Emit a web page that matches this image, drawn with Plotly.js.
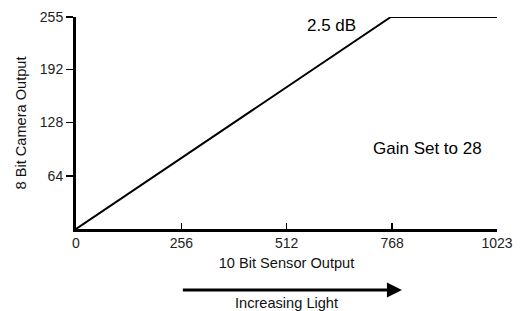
<!DOCTYPE html>
<html>
<head>
<meta charset="utf-8">
<script src="https://cdn.plot.ly/plotly-3.0.1.min.js"></script>
<style>html,body{margin:0;padding:0;background:#fff;}#chart{width:520px;height:311px;}</style>
</head>
<body>
<div id="chart"></div>
<script>
var sensorOutput = [0, 765, 1023];
var cameraOutput = [0, 255, 255];
var xTicks = [0, 256, 512, 768, 1023];
var yTicks = [64, 128, 192, 255];
var gainLabel = "2.5 dB";
var gainSetLabel = "Gain Set to 28";
var lightLabel = "Increasing Light";
var arrowStart = 256;
var arrowEnd = 792;

var font = "Liberation Sans, Arial, sans-serif";
var trace = {
  x: sensorOutput, y: cameraOutput, type: "scatter", mode: "lines",
  line: {color: "#000", width: 2}, cliponaxis: false, hoverinfo: "none"
};
var layout = {
  width: 520, height: 311,
  margin: {l: 76, r: 23, t: 17, b: 82},
  paper_bgcolor: "#fff", plot_bgcolor: "#fff",
  font: {family: font, size: 14, color: "#000"},
  showlegend: false,
  xaxis: {
    range: [0, 1023], tickvals: xTicks, ticktext: xTicks.map(String),
    showgrid: false, zeroline: false, showline: true, linewidth: 2.5, linecolor: "#000",
    ticks: "inside", ticklen: 6, tickwidth: 1.5, tickcolor: "#000",
    tickfont: {family: font, size: 14, color: "#222"},
    title: {text: "10 Bit Sensor Output", font: {family: font, size: 14.6, color: "#111"}, standoff: 8}
  },
  yaxis: {
    range: [0, 255], tickvals: yTicks, ticktext: yTicks.map(String),
    showgrid: false, zeroline: false, showline: true, linewidth: 3, linecolor: "#000",
    ticks: "outside", ticklen: 7, tickwidth: 1.5, tickcolor: "#000",
    tickfont: {family: font, size: 14, color: "#222"},
    title: {text: "8 Bit Camera Output", font: {family: font, size: 14.6, color: "#111"}, standoff: 10}
  },
  annotations: [
    {x: 685, y: 255, xref: "x", yref: "y", text: gainLabel, showarrow: false, xanchor: "right", yanchor: "middle", yshift: -8,
     font: {family: font, size: 17, color: "#000"}},
    {x: 992, y: 0.382, xref: "x", yref: "paper", text: gainSetLabel, showarrow: false, xanchor: "right", yanchor: "middle",
     font: {family: font, size: 17, color: "#000"}},
    {x: arrowEnd, y: -0.288, xref: "x", yref: "paper", ax: arrowStart, ay: -0.288, axref: "x", ayref: "paper",
     text: "", showarrow: true, arrowhead: 2, arrowsize: 1, arrowwidth: 3, arrowcolor: "#000"},
    {x: 512, y: -0.35, xref: "x", yref: "paper", text: lightLabel, showarrow: false, yanchor: "middle",
     font: {family: font, size: 14.6, color: "#111"}}
  ]
};
Plotly.newPlot("chart", [trace], layout, {displayModeBar: false, staticPlot: true});
</script>
</body>
</html>
